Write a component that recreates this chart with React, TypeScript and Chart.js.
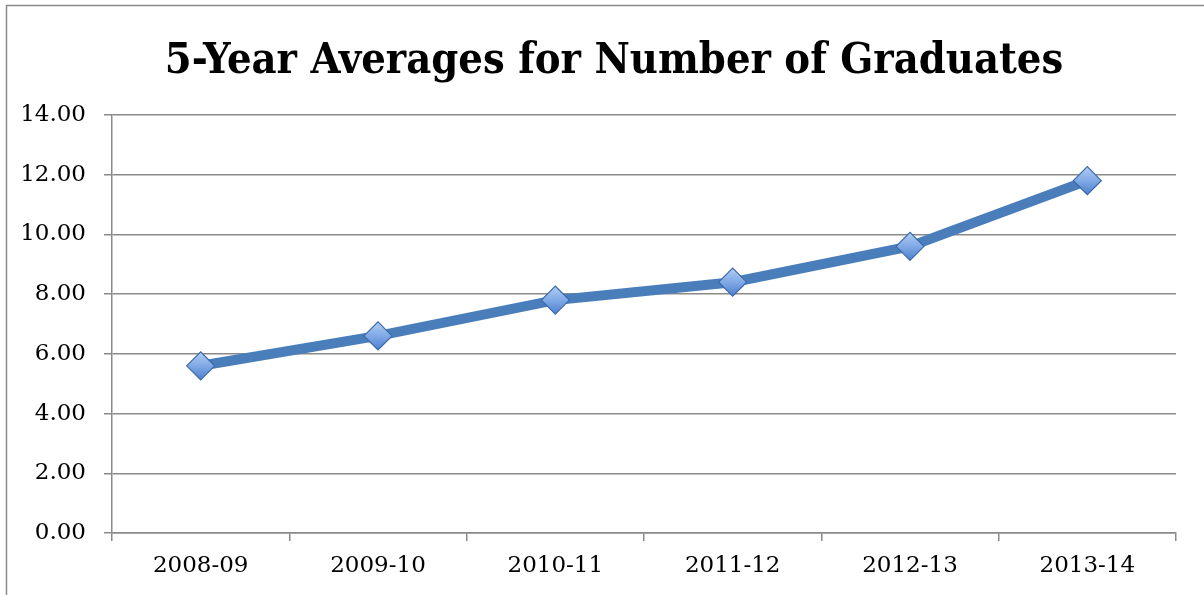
import React, { useEffect, useRef } from 'react';
import { Chart, registerables } from 'chart.js';

Chart.register(...registerables);

const chartTitle = '5-Year Averages for Number of Graduates';
const categories = ['2008-09', '2009-10', '2010-11', '2011-12', '2012-13', '2013-14'];
const averages = [5.6, 6.6, 7.8, 8.4, 9.6, 11.8];
const yMin = 0;
const yMax = 14;
const yStep = 2;

const serif = "'DejaVu Serif', serif";
const titleFont = "bold 43px 'DejaVu Serif Condensed', 'DejaVu Serif', serif";
const gridColor = '#8a8a8a';

const frame = {
  id: 'frame',
  beforeDraw(chart: any) {
    const { ctx, width, height } = chart;
    ctx.save();
    ctx.fillStyle = '#ffffff';
    ctx.fillRect(0, 0, width, height);
    ctx.strokeStyle = '#8a8a8a';
    ctx.lineWidth = 1.5;
    ctx.beginPath();
    ctx.moveTo(6.5, height);
    ctx.lineTo(6.5, 5.5);
    ctx.lineTo(width, 5.5);
    ctx.stroke();
    ctx.restore();
  },
  afterDraw(chart: any) {
    const { ctx } = chart;
    ctx.save();
    ctx.font = titleFont;
    ctx.fillStyle = '#000000';
    ctx.textAlign = 'center';
    ctx.textBaseline = 'alphabetic';
    ctx.fillText(chartTitle, 614, 73);
    ctx.restore();
  },
};

export default function App() {
  const ref = useRef<HTMLCanvasElement | null>(null);

  useEffect(() => {
    if (!ref.current) return;
    const chart = new Chart(ref.current, {
      type: 'line',
      data: {
        labels: categories,
        datasets: [
          {
            data: averages,
            borderColor: '#4a7ebb',
            borderWidth: 10,
            tension: 0,
            pointStyle: 'rectRot',
            pointRadius: 14,
            pointBorderColor: '#3a68a8',
            pointBorderWidth: 1.2,
            pointBackgroundColor: (c: any) => {
              const ch = c.chart;
              if (!ch.chartArea || c.type !== 'data') return '#7ea8e6';
              const y = ch.scales.y.getPixelForValue(c.raw);
              const g = ch.ctx.createLinearGradient(0, y - 14, 0, y + 14);
              g.addColorStop(0, '#b3cdf3');
              g.addColorStop(0.5, '#80a9e6');
              g.addColorStop(1, '#4d80cc');
              return g;
            },
          },
        ],
      },
      options: {
        animation: false,
        responsive: false,
        layout: { padding: { left: 0, right: 28, top: 115, bottom: 0 } },
        plugins: {
          legend: { display: false },
          tooltip: { enabled: false },
          title: { display: false },
        },
        scales: {
          x: {
            offset: true,
            grid: {
              display: true,
              offset: true,
              drawOnChartArea: false,
              drawTicks: true,
              tickLength: 8,
              color: gridColor,
              lineWidth: 1.5,
            },
            border: { display: true, color: gridColor, width: 1.5 },
            ticks: {
              color: '#000000',
              font: { family: serif, size: 23 },
              padding: 11,
              maxRotation: 0,
            },
            afterFit: (s: any) => {
              s.height = 62;
            },
          },
          y: {
            min: yMin,
            max: yMax,
            ticks: {
              stepSize: yStep,
              callback: (v: any) => Number(v).toFixed(2),
              color: '#000000',
              font: { family: serif, size: 23 },
              padding: 18,
            },
            grid: { color: gridColor, lineWidth: 1.5, tickLength: 8 },
            border: { display: true, color: gridColor, width: 1.5 },
            afterFit: (s: any) => {
              s.width = 112;
            },
          },
        },
      },
      plugins: [frame],
    });
    return () => chart.destroy();
  }, []);

  return (
    <div style={{ position: 'absolute', left: 0, top: 0, width: 1204, height: 595 }}>
      <canvas ref={ref} width={1204} height={595} />
    </div>
  );
}
